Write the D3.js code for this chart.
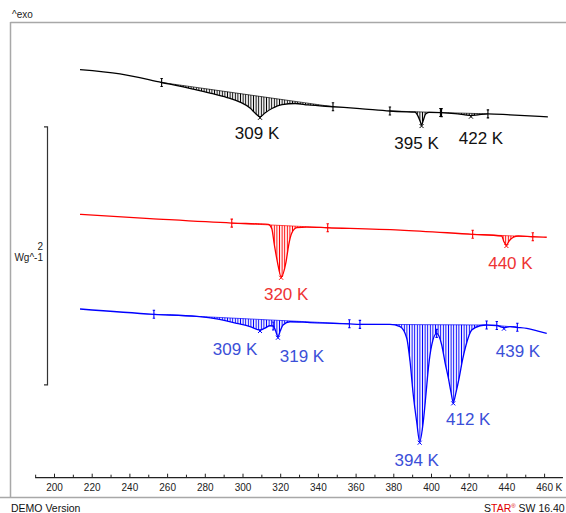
<!DOCTYPE html>
<html>
<head>
<meta charset="utf-8">
<script src="https://cdn.jsdelivr.net/npm/d3@7"></script>
<style>
body { margin: 0; background: #fff; }
svg { display: block; font-family: "Liberation Sans", Arial, sans-serif; }
</style>
</head>
<body>
<script>
const w = 566;
const h = 513;

// [temperature K, heat flow W/g (curves stacked with offset)]
const blackCurve = [
  [213.8, 3.163], [235.0, 3.130], [257.1, 3.064], [273.7, 3.013], [282.8, 2.982],
  [291.8, 2.947], [298.7, 2.912], [304.0, 2.866], [307.2, 2.820], [309.3, 2.798],
  [311.9, 2.827], [315.6, 2.862], [321.0, 2.893], [327.9, 2.901], [334.7, 2.890],
  [348.0, 2.876], [362.3, 2.862], [378.2, 2.843], [389.9, 2.835], [391.5, 2.834],
  [393.1, 2.803], [394.4, 2.757], [395.0, 2.734], [395.8, 2.765], [397.1, 2.819],
  [398.9, 2.833], [405.3, 2.831], [412.7, 2.823], [418.0, 2.813], [421.2, 2.807],
  [424.9, 2.813], [430.2, 2.821], [441.9, 2.813], [462.0, 2.798]
];
const redCurve = [
  [213.8, 2.042], [250.9, 2.009], [294.3, 1.974], [313.7, 1.964], [315.5, 1.933],
  [316.9, 1.804], [318.5, 1.674], [320.5, 1.558], [323.1, 1.674], [324.5, 1.804],
  [326.1, 1.895], [328.8, 1.938], [334.1, 1.943], [345.2, 1.938], [383.6, 1.920],
  [422.1, 1.887], [437.5, 1.874], [438.7, 1.829], [440.0, 1.804], [441.5, 1.837],
  [443.7, 1.864], [446.3, 1.874], [454.0, 1.868], [461.4, 1.864]
];
const blueCurve = [
  [213.8, 1.308], [253.0, 1.267], [275.7, 1.250], [285.4, 1.234], [296.9, 1.197],
  [304.0, 1.172], [309.3, 1.145], [311.9, 1.160], [314.6, 1.178], [316.3, 1.176],
  [317.6, 1.137], [318.8, 1.093], [320.0, 1.137], [321.5, 1.184], [325.2, 1.209],
  [335.8, 1.203], [356.7, 1.193], [362.3, 1.189], [378.2, 1.189], [383.6, 1.171],
  [387.1, 1.083], [388.9, 0.899], [390.6, 0.641], [392.4, 0.434], [394.0, 0.279],
  [395.9, 0.434], [397.3, 0.641], [398.6, 0.848], [400.4, 1.029], [403.0, 1.119],
  [404.2, 1.099], [405.7, 1.029], [407.4, 0.897], [409.2, 0.773], [410.6, 0.664],
  [411.8, 0.584], [413.3, 0.664], [414.9, 0.771], [416.7, 0.912], [418.6, 1.029],
  [421.6, 1.145], [426.0, 1.178], [429.5, 1.184], [434.9, 1.180], [438.7, 1.163],
  [442.0, 1.172], [445.8, 1.166], [450.8, 1.158], [457.8, 1.132], [461.4, 1.119]
];

// integration limits of each evaluated peak
const blackLimits = [[257.1, 348.0], [378.2, 405.0], [405.6, 430.2]];
const redLimits = [[294.3, 345.2], [422.1, 454.0]];
const blueLimits = [[253.0, 356.7], [362.3, 429.5], [434.9, 445.8]];

// limit markers
const blackMarks = [257.1, 348.0, 378.2, 405.0, 405.6, 430.2];
const redMarks = [294.3, 345.2, 422.1, 454.0];
const blueMarks = [253.0, 316.3, 356.7, 362.3, 403.0, 429.5, 434.9, 445.8];

// peak temperatures and labels
const blackPeaks = [309.3, 395.0, 421.2];
const blackLabels = ["309 K", "395 K", "422 K"];
const redPeaks = [320.5, 440.0];
const redLabels = ["320 K", "440 K"];
const bluePeaks = [309.3, 318.8, 394.0, 411.8, 438.7];
const blueLabels = ["309 K", "319 K", "394 K", "412 K", "439 K"];

// label offsets from the peak tip, px
const blackLabelOffsets = [[-3, 22], [-5, 24], [10, 28]];
const redLabelOffsets = [[5, 23], [4, 24]];
const blueLabelOffsets = [[-25, 25], [24, 25], [-3, 24], [15, 23], [14, 29]];

const majorTicks = [200, 220, 240, 260, 280, 300, 320, 340, 360, 380, 400, 420, 440, 460];
const minorTicks = [190, 210, 230, 250, 270, 290, 310, 330, 350, 370, 390, 410, 430, 450];
const scaleBar = [0.72, 2.72];   // 2 W/g

const xScale = d3.scaleLinear()
                 .domain([200, 460])
                 .range([54, 544.1]);

const yScale = d3.scaleLinear()
                 .domain([0, 3.533])
                 .range([477.7, 22]);

const svg = d3.select("body")
              .append("svg")
              .attr("width", w)
              .attr("height", h);

const defs = svg.append("defs");

// frame
svg.append("line").attr("x1", 10.5).attr("x2", w).attr("y1", 22.5).attr("y2", 22.5)
   .attr("stroke", "#a8a8a8").attr("stroke-width", 1.5);
svg.append("line").attr("x1", 10.5).attr("x2", 10.5).attr("y1", 22).attr("y2", 497.5)
   .attr("stroke", "#a8a8a8").attr("stroke-width", 1.5);
svg.append("line").attr("x1", 0).attr("x2", w).attr("y1", 497.5).attr("y2", 497.5)
   .attr("stroke", "#a8a8a8").attr("stroke-width", 1.5);

svg.append("text").attr("x", 12).attr("y", 18).attr("font-size", 10)
   .attr("fill", "#222").text("^exo");

// scale bar
const sb = d3.path();
sb.moveTo(44, yScale(scaleBar[1]));
sb.lineTo(47.5, yScale(scaleBar[1]));
sb.lineTo(47.5, yScale(scaleBar[0]));
sb.lineTo(44, yScale(scaleBar[0]));
svg.append("path").attr("d", sb.toString()).attr("fill", "none")
   .attr("stroke", "#333").attr("stroke-width", 1.2);
svg.append("text").attr("x", 43).attr("y", 250).attr("text-anchor", "end")
   .attr("font-size", 10).attr("fill", "#222").text("2");
svg.append("text").attr("x", 43).attr("y", 260.5).attr("text-anchor", "end")
   .attr("font-size", 10).attr("fill", "#222").text("Wg^-1");

// x axis
const xAxis = d3.axisBottom(xScale)
                .tickValues(majorTicks)
                .tickSizeInner(-4)
                .tickSizeOuter(0)
                .tickPadding(6)
                .tickFormat(d3.format("d"));
const xMinor = d3.axisBottom(xScale)
                 .tickValues(minorTicks)
                 .tickSizeInner(-3)
                 .tickSizeOuter(0)
                 .tickFormat("");

const gx = svg.append("g")
              .attr("transform", "translate(0," + yScale(0) + ")")
              .call(xAxis);
svg.append("g")
   .attr("transform", "translate(0," + yScale(0) + ")")
   .call(xMinor)
   .select(".domain").remove();
gx.select(".domain").remove();
gx.selectAll("text").attr("font-size", 10).attr("font-family", null).attr("fill", "#222");
gx.append("line").attr("x1", xScale(190)).attr("x2", xScale(470))
  .attr("stroke", "#222").attr("stroke-width", 1.2);
gx.append("text").attr("x", xScale(460) + 11.5).attr("y", 13.5)
  .attr("font-size", 10).attr("fill", "#222").attr("text-anchor", "start").text("K");
svg.selectAll("g.tick line").attr("stroke", "#222");

// helpers
function valueAt(curve, t) {
  for (let i = 1; i < curve.length; i++) {
    if (curve[i][0] >= t) {
      const [t0, v0] = curve[i - 1];
      const [t1, v1] = curve[i];
      return v0 + (v1 - v0) * (t - t0) / (t1 - t0);
    }
  }
  return curve[curve.length - 1][1];
}

function segment(curve, a, b) {
  const va = valueAt(curve, a);
  const vb = valueAt(curve, b);
  const pts = [[a, va]].concat(curve.filter(d => d[0] > a && d[0] < b), [[b, vb]]);
  return pts.map(d => ({ t: d[0], v: d[1], base: va + (vb - va) * (d[0] - a) / (b - a) }));
}

const line = d3.line()
               .x(d => xScale(d[0]))
               .y(d => yScale(d[1]))
               .curve(d3.curveMonotoneX);

const area = d3.area()
               .x(d => xScale(d.t))
               .y0(d => yScale(d.base))
               .y1(d => yScale(d.v))
               .curve(d3.curveMonotoneX);

function drawCurve(name, curve, limits, marks, peaks, labels, offsets, color, textColor) {
  const pat = defs.append("pattern")
                  .attr("id", "hatch-" + name)
                  .attr("patternUnits", "userSpaceOnUse")
                  .attr("width", 2.6)
                  .attr("height", 6);
  pat.append("line").attr("x1", 1.3).attr("x2", 1.3).attr("y1", 0).attr("y2", 6)
     .attr("stroke", color).attr("stroke-width", 1);

  const g = svg.append("g").attr("class", name);

  g.selectAll("path.hatch")
   .data(limits)
   .enter()
   .append("path")
   .attr("class", "hatch")
   .attr("d", d => area(segment(curve, d[0], d[1])))
   .attr("fill", "url(#hatch-" + name + ")")
   .attr("stroke", "none");

  g.selectAll("line.base")
   .data(limits)
   .enter()
   .append("line")
   .attr("class", "base")
   .attr("x1", d => xScale(d[0]))
   .attr("x2", d => xScale(d[1]))
   .attr("y1", d => yScale(valueAt(curve, d[0])))
   .attr("y2", d => yScale(valueAt(curve, d[1])))
   .attr("stroke", color)
   .attr("stroke-width", 0.7);

  g.append("path")
   .attr("d", line(curve))
   .attr("fill", "none")
   .attr("stroke", color)
   .attr("stroke-width", 1.3);

  g.selectAll("path.mark")
   .data(marks)
   .enter()
   .append("path")
   .attr("class", "mark")
   .attr("d", t => {
     const x = xScale(t), y = yScale(valueAt(curve, t));
     return `M${x},${y - 4}V${y + 4}M${x - 1.2},${y - 4}H${x + 1.2}M${x - 1.2},${y + 4}H${x + 1.2}`;
   })
   .attr("stroke", color)
   .attr("stroke-width", 1.1)
   .attr("fill", "none");

  g.selectAll("path.peak")
   .data(peaks)
   .enter()
   .append("path")
   .attr("class", "peak")
   .attr("d", t => {
     const x = xScale(t), y = yScale(valueAt(curve, t)) + 1;
     return `M${x - 2},${y - 2}L${x + 2},${y + 2}M${x + 2},${y - 2}L${x - 2},${y + 2}`;
   })
   .attr("stroke", color)
   .attr("stroke-width", 1);

  g.selectAll("text.label")
   .data(peaks)
   .enter()
   .append("text")
   .attr("class", "label")
   .attr("x", (t, i) => xScale(t) + offsets[i][0])
   .attr("y", (t, i) => yScale(valueAt(curve, t)) + offsets[i][1])
   .attr("text-anchor", "middle")
   .attr("font-size", 17)
   .attr("fill", textColor)
   .text((t, i) => labels[i]);
}

drawCurve("black", blackCurve, blackLimits, blackMarks, blackPeaks, blackLabels, blackLabelOffsets, "#000", "#111");
drawCurve("red", redCurve, redLimits, redMarks, redPeaks, redLabels, redLabelOffsets, "#ff0000", "#ee3333");
drawCurve("blue", blueCurve, blueLimits, blueMarks, bluePeaks, blueLabels, blueLabelOffsets, "#0000ff", "#3b4fd8");

// footer
svg.append("text").attr("x", 11).attr("y", 511.5).attr("font-size", 10.5)
   .attr("fill", "#111").text("DEMO Version");
const star = svg.append("text").attr("x", 484).attr("y", 511.5)
                .attr("font-size", 10.5).attr("fill", "#111");
star.append("tspan").text("S");
star.append("tspan").attr("fill", "#e00000").text("TAR");
star.append("tspan").attr("fill", "#e00000").attr("font-size", 6).attr("dy", -4).text("®");
star.append("tspan").attr("dy", 4).text(" SW 16.40");
</script>
</body>
</html>
